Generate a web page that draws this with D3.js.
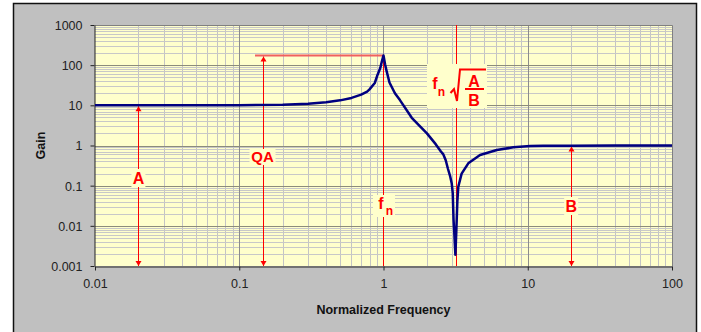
<!DOCTYPE html>
<html><head><meta charset="utf-8">
<script src="https://cdn.jsdelivr.net/npm/d3@7"></script>
<style>body{margin:0;background:#fff}svg{display:block}</style>
</head><body>
<svg id="c" width="701" height="332"></svg>
<script>
const freq = [0.01,0.05,0.1,0.2,0.3,0.4,0.5,0.6,0.7,0.77,0.8,0.87,0.91,0.95,0.975,1.0,1.025,1.05,1.1,1.2,1.3,1.57,2.0,2.3,2.5,2.6,2.7,2.8,2.9,2.97,3.02,3.06,3.1,3.15,3.2,3.25,3.3,3.48,3.87,4.67,6.1,7.94,10.4,12.8,20,40,100];
const gain = [10,10,10.1,10.4,11,12,13.3,15.3,18.5,22,25,36,58,85,125,175,105,72,37,20,13.5,4.9,2.0,1.08,0.71,0.6,0.43,0.26,0.17,0.115,0.065,0.014,0.006,0.0019,0.008,0.04,0.094,0.2,0.36,0.58,0.77,0.9,0.97,0.98,0.99,1.0,1.0];
const xTicks = [0.01,0.1,1,10,100];
const xTickLabels = ["0.01","0.1","1","10","100"];
const yTicks = [0.001,0.01,0.1,1,10,100,1000];
const yTickLabels = ["0.001","0.01","0.1","1","10","100","1000"];
// annotations: [frequency, top gain]
const arrowA = [0.02, 10];
const arrowQA = [0.145, 175];
const arrowB = [20, 1];
const fnLine = [1, 175];
const notchLine = [Math.sqrt(10), 1000];

const svg = d3.select("#c");
const L=95,R=672,T=25,B=266;
const x = d3.scaleLog().domain([0.01,100]).range([L,R]);
const y = d3.scaleLog().domain([0.001,1000]).range([B,T]);

svg.append("rect").attr("x",13.5).attr("y",3.5).attr("width",683).attr("height",340)
  .attr("fill","#c0c0c0").attr("stroke","#111").attr("stroke-width",1.5);
svg.append("rect").attr("x",L).attr("y",T).attr("width",R-L).attr("height",B-T).attr("fill","#ffffcc");

const g = svg.append("g");
// minor grids
const minorX=[],minorY=[];
for(let d=-2; d<2; d++) for(let k=2;k<10;k++) minorX.push(k*Math.pow(10,d));
for(let d=-3; d<3; d++) for(let k=2;k<10;k++) minorY.push(k*Math.pow(10,d));
g.selectAll(".mx").data(minorX).join("line").attr("x1",d=>Math.round(x(d))+0.5).attr("x2",d=>Math.round(x(d))+0.5)
  .attr("y1",T).attr("y2",B).attr("stroke","#c4c4c4").attr("stroke-width",1);
g.selectAll(".my").data(minorY).join("line").attr("y1",d=>Math.round(y(d))+0.5).attr("y2",d=>Math.round(y(d))+0.5)
  .attr("x1",L).attr("x2",R).attr("stroke","#c8c8c8").attr("stroke-width",1);
g.selectAll(".Mx").data(xTicks.slice(1,-1)).join("line").attr("x1",d=>Math.round(x(d))+0.5).attr("x2",d=>Math.round(x(d))+0.5)
  .attr("y1",T).attr("y2",B).attr("stroke","#8c8c8c").attr("stroke-width",1);
g.selectAll(".My").data(yTicks.slice(1,-1)).join("line").attr("y1",d=>Math.round(y(d))+0.5).attr("y2",d=>Math.round(y(d))+0.5)
  .attr("x1",L).attr("x2",R).attr("stroke","#8c8c7c").attr("stroke-width",1);
// plot border top/right
svg.append("path").attr("d",`M${L},${T+0.5}H${R+0.5}V${B}`).attr("fill","none").attr("stroke","#808080");

// axes
const xAxis = d3.axisBottom(x).tickValues(xTicks).tickFormat((d,i)=>xTickLabels[i]).tickSize(4).tickSizeOuter(0).tickPadding(9);
const yAxis = d3.axisLeft(y).tickValues(yTicks).tickFormat((d,i)=>yTickLabels[i]).tickSize(4).tickSizeOuter(0).tickPadding(8);
const gx = svg.append("g").attr("transform",`translate(0,${B+0.5})`).call(xAxis);
const gy = svg.append("g").attr("transform",`translate(${L-0.5},0)`).call(yAxis);
[gx,gy].forEach(a=>{
  a.select(".domain").attr("stroke","#222");
  a.selectAll(".tick line").attr("stroke","#222");
  a.selectAll("text").attr("font-family","Liberation Sans, Arial, sans-serif").attr("font-size",12.5).attr("fill","#222");
});
gy.selectAll("text").attr("dy","0.35em");

svg.append("text").attr("x",(L+R)/2).attr("y",314).attr("text-anchor","middle")
  .attr("font-family","Liberation Sans, Arial, sans-serif").attr("font-weight","bold").attr("font-size",12.5).attr("fill","#111")
  .text("Normalized Frequency");
svg.append("text").attr("transform",`translate(45,${(T+B)/2}) rotate(-90)`).attr("text-anchor","middle")
  .attr("font-family","Liberation Sans, Arial, sans-serif").attr("font-weight","bold").attr("font-size",12.5).attr("fill","#111")
  .text("Gain");

// annotations
const red="#ff0000";
const ann = svg.append("g");
function vline(f,gTop,yBottom){
  const xx=Math.round(x(f))+0.5;
  ann.append("line").attr("x1",xx).attr("x2",xx).attr("y1",typeof gTop==="number"?y(gTop):gTop).attr("y2",yBottom).attr("stroke",red).attr("stroke-width",1);
}
function arrow(f,gTop){
  const xx=Math.round(x(f))+0.5, y1=y(gTop)+1, y2=B;
  ann.append("line").attr("x1",xx).attr("x2",xx).attr("y1",y1).attr("y2",y2).attr("stroke",red).attr("stroke-width",1);
  ann.append("path").attr("d",`M${xx},${y1}l-3,5h6z`).attr("fill",red);
  ann.append("path").attr("d",`M${xx},${y2}l-3,-5h6z`).attr("fill",red);
}
arrow(arrowA[0],arrowA[1]);
arrow(arrowQA[0],arrowQA[1]);
arrow(arrowB[0],arrowB[1]);
vline(fnLine[0], fnLine[1], B);
vline(notchLine[0], notchLine[1], B);
ann.append("line").attr("x1",255).attr("x2",x(1)).attr("y1",y(arrowQA[1])).attr("y2",y(arrowQA[1]))
  .attr("stroke","#f06060").attr("stroke-width",2);

// curve
const line = d3.line().x(d=>x(d[0])).y(d=>y(d[1]));
svg.append("path").datum(freq.map((f,i)=>[f,gain[i]])).attr("d",line)
  .attr("fill","none").attr("stroke","#000080").attr("stroke-width",2.5).attr("stroke-linejoin","round");

// labels
const lab = svg.append("g").attr("font-family","Liberation Sans, Arial, sans-serif").attr("font-weight","bold").attr("fill",red);
function label(txt,cx,cy,size,w,h){
  lab.append("rect").attr("x",cx-w/2).attr("y",cy-h/2).attr("width",w).attr("height",h).attr("fill","#ffffcc");
  lab.append("text").attr("x",cx).attr("y",cy).attr("dy","0.36em").attr("text-anchor","middle").attr("font-size",size).attr("fill",red).text(txt);
}
label("A", x(arrowA[0]), 178, 16, 14, 18);
label("QA", x(arrowQA[0]), 157, 15, 26, 16);
label("B", x(arrowB[0]), 206, 16, 14, 18);
// fn label
lab.append("rect").attr("x",373).attr("y",195).attr("width",22).attr("height",22).attr("fill","#ffffcc");
lab.append("text").attr("x",381).attr("y",209).attr("text-anchor","middle").attr("font-size",16).attr("fill",red).text("f");
lab.append("text").attr("x",389.5).attr("y",215).attr("text-anchor","middle").attr("font-size",12).attr("fill",red).text("n");
// fn sqrt(A/B)
lab.append("rect").attr("x",427).attr("y",64).attr("width",60).attr("height",44).attr("fill","#ffffcc");
lab.append("text").attr("x",435).attr("y",89).attr("text-anchor","middle").attr("font-size",16).attr("fill",red).text("f");
lab.append("text").attr("x",441.5).attr("y",96).attr("text-anchor","middle").attr("font-size",12).attr("fill",red).text("n");
lab.append("path").attr("d","M450.5,93 L454,89 L457,101 L460,69.5 L486,69.5").attr("fill","none").attr("stroke",red).attr("stroke-width",2).attr("stroke-linejoin","miter");
lab.append("text").attr("x",474).attr("y",86.5).attr("text-anchor","middle").attr("font-size",16).attr("fill",red).text("A");
lab.append("line").attr("x1",465).attr("x2",484).attr("y1",89).attr("y2",89).attr("stroke",red).attr("stroke-width",2);
lab.append("text").attr("x",474).attr("y",106).attr("text-anchor","middle").attr("font-size",16).attr("fill",red).text("B");
</script>
</body></html>
